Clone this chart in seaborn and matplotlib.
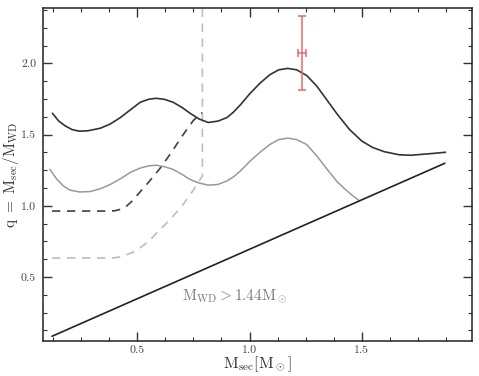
import numpy as np
import pandas as pd
import matplotlib
matplotlib.use("Agg")
import matplotlib.pyplot as plt
from matplotlib.ticker import MultipleLocator
import seaborn as sns

# upper solid curve (dark)
upper_x = [0.122, 0.15, 0.18, 0.21, 0.242, 0.28, 0.336, 0.38, 0.425, 0.47, 0.513,
           0.55, 0.584, 0.62, 0.66, 0.70, 0.735, 0.775, 0.816, 0.86, 0.90, 0.93,
           0.96, 1.00, 1.046, 1.09, 1.13, 1.17, 1.21, 1.255, 1.30, 1.344, 1.39,
           1.446, 1.50, 1.548, 1.60, 1.668, 1.72, 1.757, 1.82, 1.873]
upper_q = [1.65, 1.595, 1.56, 1.535, 1.524, 1.527, 1.545, 1.575, 1.62, 1.675, 1.727,
           1.748, 1.755, 1.748, 1.727, 1.69, 1.65, 1.61, 1.585, 1.595, 1.62, 1.66,
           1.71, 1.785, 1.86, 1.92, 1.955, 1.965, 1.955, 1.915, 1.84, 1.745, 1.645,
           1.535, 1.455, 1.41, 1.38, 1.358, 1.355, 1.36, 1.368, 1.376]

# lower solid curve (grey)
lower_x = [0.11, 0.14, 0.17, 0.20, 0.242, 0.29, 0.336, 0.38, 0.425, 0.47, 0.513,
           0.55, 0.584, 0.62, 0.66, 0.70, 0.735, 0.775, 0.816, 0.86, 0.90, 0.93,
           0.96, 1.00, 1.046, 1.09, 1.13, 1.17, 1.21, 1.255, 1.30, 1.344, 1.39,
           1.43, 1.46, 1.49]
lower_q = [1.257, 1.19, 1.14, 1.11, 1.097, 1.10, 1.12, 1.15, 1.19, 1.235, 1.265,
           1.28, 1.285, 1.275, 1.255, 1.22, 1.185, 1.16, 1.145, 1.15, 1.175, 1.205,
           1.245, 1.31, 1.375, 1.43, 1.465, 1.475, 1.465, 1.43, 1.35, 1.26, 1.17,
           1.11, 1.07, 1.035]

# dashed branches
dark_dash_x = [0.12, 0.38, 0.40, 0.425, 0.45, 0.475, 0.50, 0.55, 0.60, 0.65, 0.70, 0.75, 0.79]
dark_dash_q = [0.963, 0.963, 0.965, 0.975, 0.995, 1.03, 1.075, 1.165, 1.26, 1.37, 1.49, 1.60, 1.655]
grey_dash_x = [0.12, 0.38, 0.40, 0.425, 0.45, 0.475, 0.50, 0.55, 0.60, 0.65, 0.70, 0.75, 0.79, 0.79]
grey_dash_q = [0.633, 0.633, 0.635, 0.642, 0.655, 0.67, 0.69, 0.75, 0.83, 0.91, 1.0, 1.11, 1.21, 2.39]

# q = M_sec / 1.44
limit_x = [0.12, 1.87]
limit_q = [0.12 / 1.44, 1.87 / 1.44]

# observed point
obs_x, obs_q = 1.233, 2.07
obs_xerr, obs_qerr = 0.018, 0.26

sns.set_style("ticks")
plt.rcParams["font.family"] = ["cmr10", "DejaVu Serif"]
plt.rcParams["mathtext.fontset"] = "cm"
plt.rcParams["axes.formatter.use_mathtext"] = True

fig = plt.figure(figsize=(4.79, 3.76), dpi=100)
ax = fig.add_axes([0.0898, 0.093, 0.895, 0.886])

df_up = pd.DataFrame({"x": upper_x, "q": upper_q})
df_lo = pd.DataFrame({"x": lower_x, "q": lower_q})
df_dd = pd.DataFrame({"x": dark_dash_x, "q": dark_dash_q})
df_gd = pd.DataFrame({"x": grey_dash_x, "q": grey_dash_q})
df_lim = pd.DataFrame({"x": limit_x, "q": limit_q})

sns.lineplot(data=df_gd, x="x", y="q", ax=ax, color="#bdbdbd", lw=1.2,
             linestyle=(0, (5, 4)), sort=False, estimator=None)
sns.lineplot(data=df_dd, x="x", y="q", ax=ax, color="#404040", lw=1.2,
             linestyle=(0, (5, 4)), sort=False, estimator=None)
sns.lineplot(data=df_lo, x="x", y="q", ax=ax, color="#999999", lw=1.1,
             sort=False, estimator=None)
sns.lineplot(data=df_up, x="x", y="q", ax=ax, color="#333333", lw=1.2,
             sort=False, estimator=None)
sns.lineplot(data=df_lim, x="x", y="q", ax=ax, color="#222222", lw=1.2,
             sort=False, estimator=None)

ax.errorbar(obs_x, obs_q, xerr=obs_xerr, yerr=obs_qerr, color="#e86a6a",
            lw=1.1, capsize=3, capthick=1.1, fmt="none")

ax.text(0.935, 0.367, r"$\mathrm{M_{WD}} > 1.44\mathrm{M_\odot}$", color="#7a7a7a",
        fontsize=11, ha="center", va="center")

ax.set_xlim(0.08, 1.99)
ax.set_ylim(0.05, 2.39)
ax.xaxis.set_minor_locator(MultipleLocator(0.125))
ax.yaxis.set_minor_locator(MultipleLocator(0.125))
ax.set_xticks([0.5, 1.0, 1.5])
ax.set_xticklabels(["0.5", "1.0", "1.5"])
ax.set_yticks([0.5, 1.0, 1.5, 2.0])
ax.set_yticklabels(["0.5", "1.0", "1.5", "2.0"])

ax.tick_params(which="both", direction="in", top=True, right=True,
               colors="#333333", labelcolor="#444444")
ax.tick_params(which="major", length=6.5, width=1.0, labelsize=8.5)
ax.tick_params(axis="x", which="major", pad=3)
ax.tick_params(axis="y", which="major", pad=5)
ax.tick_params(which="minor", length=3, width=0.8)
for s in ax.spines.values():
    s.set_linewidth(1.1)
    s.set_color("#222222")

ax.set_xlabel(r"$\mathrm{M_{sec}[M_\odot]}$", fontsize=11.5, labelpad=0, color="#333333")
ax.set_ylabel(r"$\mathrm{q\ =\ M_{sec}/M_{WD}}$", fontsize=11, labelpad=0, color="#333333")

fig.savefig("out.png", dpi=100)
